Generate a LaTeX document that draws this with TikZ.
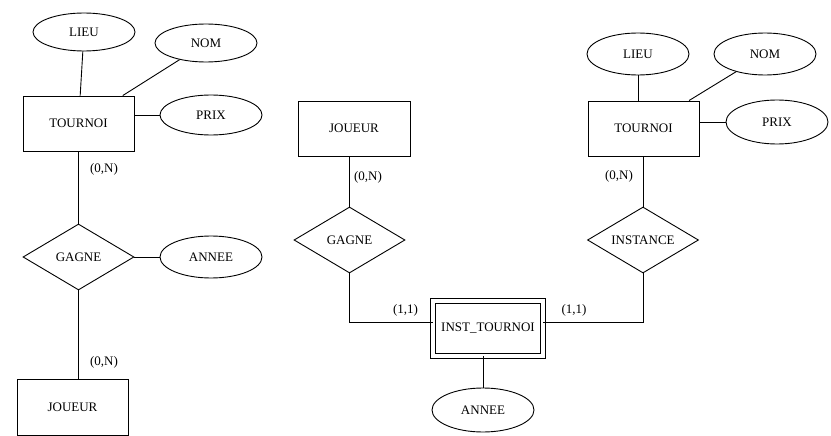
\documentclass[tikz,border=0pt]{standalone}
\usepackage{fontspec}
\setmainfont{Liberation Serif}
\usetikzlibrary{shapes.geometric,calc}
\begin{document}
\begin{tikzpicture}[x=1pt,y=-1pt,line width=0.9pt,
  every node/.style={font=\fontsize{13}{15}\selectfont},
  entity/.style={draw,rectangle,minimum width=111pt,minimum height=55pt,inner sep=0pt},
  attr/.style={draw,ellipse,minimum width=102pt,minimum height=38pt,inner sep=0pt},
  rel/.style={draw,diamond,minimum width=111pt,minimum height=66pt,inner sep=0pt,aspect=1.7},
  card/.style={inner sep=0pt}]
\useasboundingbox (0,0) rectangle (831,436);

% ---- left schema ----
\node[attr] (lieuA) at (84,32) {LIEU};
\node[attr] (nomA) at (206,43) {NOM};
\node[entity] (tournoiA) at (78.5,123.5) {TOURNOI};
\node[attr,minimum height=40pt] (prixA) at (211,115) {PRIX};
\node[rel] (gagneA) at (78.5,257) {GAGNE};
\node[attr,minimum height=42pt] (anneeA) at (211,257) {ANNEE};
\node[entity,minimum height=56pt] (joueurA) at (72.5,407) {JOUEUR};

\draw (lieuA) -- (tournoiA);
\draw (nomA) -- (tournoiA);
\draw (tournoiA.east |- prixA) -- (prixA.west);
\draw (gagneA.east) -- (anneeA.west);
\draw (tournoiA.south -| gagneA.north) -- (gagneA.north);
\draw (gagneA.south) -- (gagneA.south |- joueurA.north);
\node[card] (cardA1) at (104,169) {(0,N)};
\node[card] (cardA2) at (104,362) {(0,N)};

% ---- right schema ----
\node[entity,minimum width=112pt] (joueurB) at (354,128.5) {JOUEUR};
\node[rel] (gagneB) at (349.5,240) {GAGNE};
\node[entity,minimum width=110pt,double distance=4.2pt] (inst) at (488,328.5) {INST\_TOURNOI};
\node[attr,minimum height=44pt] (anneeB) at (483,410) {ANNEE};

\node[attr,minimum height=42pt] (lieuB) at (638,54) {LIEU};
\node[attr,minimum height=42pt] (nomB) at (765,54) {NOM};
\node[entity] (tournoiB) at (643.5,128.5) {TOURNOI};
\node[attr,minimum height=44pt] (prixB) at (777,122) {PRIX};
\node[rel] (instance) at (643,240) {INSTANCE};

\coordinate (bendL) at (349.5,322);
\coordinate (bendR) at (643,322);

\draw (joueurB.south -| gagneB.north) -- (gagneB.north);
\draw (gagneB.south) -- (bendL) -- (bendL -| inst.west);
\draw (inst.east |- bendR) -- (bendR) -- (instance.south);
\draw (instance.north) -- (instance.north |- tournoiB.south);
\draw (inst.south -| anneeB.north) -- (anneeB.north);

\draw (lieuB.south) -- (lieuB.south |- tournoiB.north);
\draw (nomB) -- (tournoiB);
\draw (tournoiB.east |- prixB) -- (prixB.west);

\node[card] (cardB1) at (368,177) {(0,N)};
\node[card] (cardB2) at (405.5,310) {(1,1)};
\node[card] (cardB3) at (574,310) {(1,1)};
\node[card] (cardB4) at (619,176) {(0,N)};
\end{tikzpicture}
\end{document}
